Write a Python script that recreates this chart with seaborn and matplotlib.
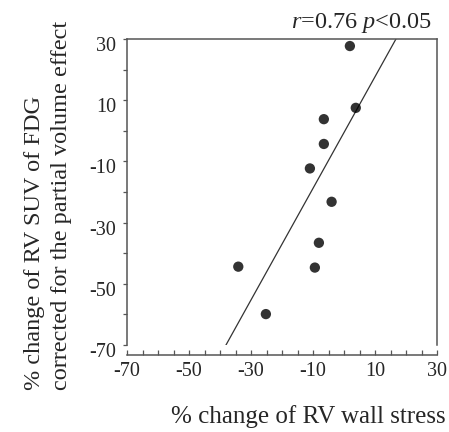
import matplotlib
matplotlib.use("Agg")
import matplotlib.pyplot as plt
import matplotlib.transforms as mtransforms
from matplotlib.ticker import MultipleLocator
import numpy as np
import pandas as pd
import seaborn as sns

# % change of RV wall stress vs % change of RV SUV of FDG (partial-volume corrected)
wall_stress_change = [1.9, 3.8, -6.5, -6.5, -11.0, -4.0, -8.1, -9.4, -34.1, -25.2]
suv_change = [27.7, 7.5, 3.8, -4.3, -12.3, -23.2, -36.6, -44.7, -44.4, -59.9]
x_ticks = [-70, -50, -30, -10, 10, 30]
y_ticks = [30, 10, -10, -30, -50, -70]

df = pd.DataFrame({"wall": wall_stress_change, "suv": suv_change})

sns.set_style("ticks")
plt.rcParams["font.family"] = ["Liberation Serif", "DejaVu Serif"]
plt.rcParams["mathtext.fontset"] = "custom"
plt.rcParams["mathtext.rm"] = "Liberation Serif"
plt.rcParams["mathtext.it"] = "Liberation Serif:italic"

fig = plt.figure(figsize=(4.49, 4.32), dpi=100)
ax = fig.add_axes([127 / 449, 1 - 345 / 432, 310 / 449, 306 / 432])
ax.set_xlim(-70, 30)
ax.set_ylim(-70, 30)

sns.regplot(data=df, x="wall", y="suv", ax=ax, ci=None, truncate=False,
            scatter_kws=dict(s=55, color="black", edgecolors="none", zorder=3),
            line_kws=dict(color="#333333", lw=0.9))
ax.set_xlim(-70, 30)
ax.set_ylim(-70, 30)

spine_col = "#555555"
for side in ["left", "right", "top", "bottom"]:
    ax.spines[side].set_visible(True)
    ax.spines[side].set_color(spine_col)
    ax.spines[side].set_linewidth(1.1)
ax.spines["bottom"].set_position(("outward", 7))

ax.set_xticks(x_ticks)
ax.xaxis.set_minor_locator(MultipleLocator(5))
ax.set_yticks(y_ticks)
ax.yaxis.set_minor_locator(MultipleLocator(10))
ax.tick_params(axis="x", which="both", direction="in", length=3.5, width=0.9,
               color=spine_col, labelsize=14.5, pad=5)
ax.tick_params(axis="y", which="both", direction="out", length=3, width=0.9,
               color=spine_col, labelsize=14.5, pad=5)
ax.set_xticklabels([str(v) for v in x_ticks])
ax.set_yticklabels([str(v) for v in y_ticks])
shift = mtransforms.ScaledTranslation(0, -5 / 100, fig.dpi_scale_trans)
for lab in ax.get_yticklabels():
    lab.set_transform(lab.get_transform() + shift)

ax.set_xlabel("")
ax.set_ylabel("")

fig.text(432 / 449, 1 - 28 / 432, r"$r$=0.76 $p$<0.05", ha="right", va="baseline",
         fontsize=17.5)
fig.text(446 / 449, 1 - 417 / 432, "% change of RV wall stress", ha="right", va="center",
         fontsize=18)
fig.text(48 / 449, 1 - 390 / 432,
         "% change of RV SUV of FDG\ncorrected for the partial volume effect",
         rotation=90, ha="center", va="bottom", multialignment="left",
         fontsize=17.5, linespacing=1.35)

fig.savefig("out.png", dpi=100)
